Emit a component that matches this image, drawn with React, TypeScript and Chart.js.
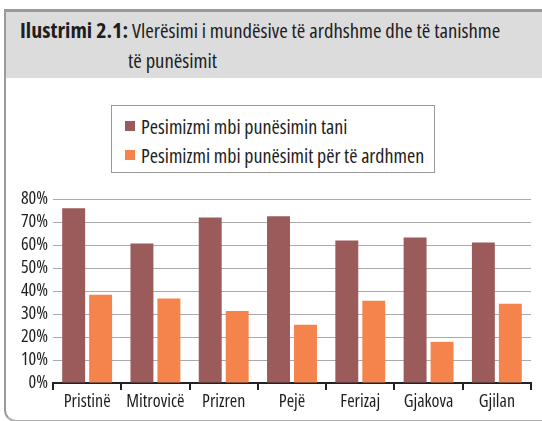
import React, { useEffect, useRef } from "react";
import { Chart, registerables } from "chart.js";

Chart.register(...registerables);

const categories = ["Pristinë", "Mitrovicë", "Prizren", "Pejë", "Ferizaj", "Gjakova", "Gjilan"];
const currentPessimism = [76, 60.7, 72, 72.5, 62, 63.3, 61.1];
const futurePessimism = [38.4, 36.7, 31.3, 25.3, 35.8, 17.9, 34.5];
const seriesLabels = ["Pesimizmi mbi punësimin tani", "Pesimizmi mbi punësimit për të ardhmen"];
const seriesColors = ["#9B5B5B", "#F4844C"];
const yMax = 80;
const yStep = 10;

const titleBold = "Ilustrimi 2.1:";
const titleLine1 = "Vlerësimi i mundësive të ardhshme dhe të tanishme";
const titleLine2 = "të punësimit";

const FONT = "'Open Sans', sans-serif";
const TICK_FONT = { family: FONT, size: 18, weight: "condensed" as any, lineHeight: 1 };
const TEXT = "#1e1e1e";

export default function App() {
  const canvasRef = useRef<HTMLCanvasElement | null>(null);

  useEffect(() => {
    const canvas = canvasRef.current;
    if (!canvas) return;
    const chart = new Chart(canvas, {
      type: "bar",
      data: {
        labels: categories,
        datasets: [
          {
            label: seriesLabels[0],
            data: currentPessimism,
            backgroundColor: seriesColors[0],
            categoryPercentage: 0.79,
            barPercentage: 0.85,
          },
          {
            label: seriesLabels[1],
            data: futurePessimism,
            backgroundColor: seriesColors[1],
            categoryPercentage: 0.79,
            barPercentage: 0.85,
          },
        ],
      },
      options: {
        animation: false,
        responsive: false,
        devicePixelRatio: 1,
        layout: { padding: { top: 14, right: 11, left: 0, bottom: 0 } },
        plugins: {
          legend: { display: false },
          tooltip: { enabled: false },
        },
        scales: {
          x: {
            offset: true,
            grid: {
              display: true,
              offset: true,
              drawOnChartArea: false,
              drawTicks: true,
              tickLength: 7,
              color: "#222",
              lineWidth: 2,
            },
            border: { display: true, color: "#222", width: 2 },
            ticks: { font: TICK_FONT, color: TEXT, padding: 3, maxRotation: 0, autoSkip: false },
            afterFit: (s: any) => {
              s.height = 38;
            },
          },
          y: {
            min: 0,
            max: yMax,
            ticks: {
              stepSize: yStep,
              autoSkip: false,
              callback: (v: any) => v + "%",
              font: TICK_FONT,
              color: TEXT,
              padding: 5,
            },
            grid: { color: "#aaaaaa", lineWidth: 1, drawTicks: false },
            border: { display: false },
            afterFit: (s: any) => {
              s.width = 53;
            },
          },
        },
      },
    });
    return () => chart.destroy();
  }, []);

  return (
    <div
      style={{
        position: "fixed",
        left: 0,
        top: 0,
        width: 542,
        height: 421,
        background: "#fff",
        overflow: "hidden",
        fontFamily: FONT,
        fontStretch: "condensed",
        color: TEXT,
      }}
    >
      <div
        style={{
          position: "absolute",
          left: 4,
          top: 9,
          width: 560,
          height: 413,
          borderLeft: "2px solid #9a9a9a",
          borderTop: "3px solid #9a9a9a",
          borderBottom: "2px solid #b0b0b0",
          borderBottomLeftRadius: 12,
          boxSizing: "border-box",
        }}
      />
      <div
        style={{
          position: "absolute",
          left: 6,
          top: 12,
          right: 0,
          height: 66,
          background: "#dcdcdc",
        }}
      />
      <div
        style={{
          position: "absolute",
          left: 20,
          top: 15,
          fontSize: 20.7,
          lineHeight: "28px",
          whiteSpace: "nowrap",
        }}
      >
        <span style={{ fontWeight: "bold", fontSize: 22 }}>{titleBold}</span> {titleLine1}
      </div>
      <div
        style={{
          position: "absolute",
          left: 128,
          top: 46,
          fontSize: 20.7,
          lineHeight: "28px",
          whiteSpace: "nowrap",
        }}
      >
        {titleLine2}
      </div>
      <div
        style={{
          position: "absolute",
          left: 111,
          top: 105,
          width: 324,
          height: 68,
          border: "1px solid #999",
          boxSizing: "border-box",
        }}
      >
        {seriesLabels.map((lab, i) => (
          <div
            key={lab}
            style={{
              position: "absolute",
              left: 13,
              top: 7 + i * 29,
              height: 26,
              display: "flex",
              alignItems: "center",
              fontSize: 20,
              whiteSpace: "nowrap",
            }}
          >
            <span
              style={{
                display: "inline-block",
                width: 10,
                height: 10,
                background: seriesColors[i],
                marginRight: 6,
              }}
            />
            {lab}
          </div>
        ))}
      </div>
      <canvas
        ref={canvasRef}
        width={542}
        height={236}
        style={{ position: "absolute", left: 0, top: 185, width: 542, height: 236 }}
      />
    </div>
  );
}
